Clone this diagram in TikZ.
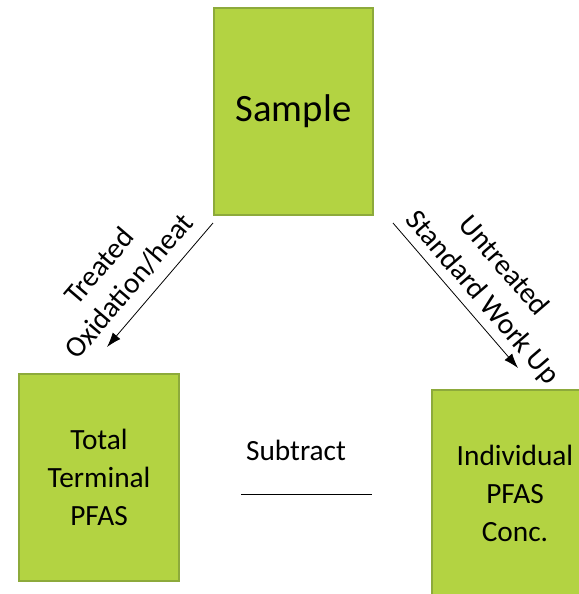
\documentclass[tikz,border=0pt]{standalone}
\usepackage{fontspec}
\setmainfont{Carlito}
\usetikzlibrary{arrows.meta}
\definecolor{boxgreen}{HTML}{B3D342}
\definecolor{boxedge}{HTML}{8DAA3B}
\tikzset{
  stagebox/.style={draw=boxedge, fill=boxgreen, line width=1.5pt, align=center, inner sep=0pt},
  flowarrow/.style={-{Latex[length=11pt,width=7.5pt]}, line width=0.6pt},
  steplabel/.style={font=\fontsize{22}{28.5}\selectfont}
}
\begin{document}
\begin{tikzpicture}[x=0.75pt,y=-0.75pt]
    \useasboundingbox (0,0) rectangle (579,594);
    \clip (0,0) rectangle (579,594);
    % boxes
    \node[stagebox, minimum width=119.25pt, minimum height=155.25pt, font=\fontsize{29}{35}\selectfont] (sample) at (293.5,111.5) {Sample};
    \node[stagebox, steplabel, minimum width=120pt, minimum height=155.25pt] (total) at (99,477.5) {Total\\Terminal\\PFAS};
    \node[stagebox, steplabel, minimum width=124.5pt, minimum height=155.25pt] (indiv) at (515,493.5) {Individual\\PFAS\\Conc.};
    % arrows
    \coordinate (lstart) at (213,223);
    \coordinate (lend) at (107,347);
    \coordinate (rstart) at (393,223);
    \coordinate (rend) at (518,368);
    \draw[flowarrow] (lstart) -- (lend);
    \draw[flowarrow] (rstart) -- (rend);
    \node[steplabel, rotate=49.5] (treated) at (99,266) {Treated};
    \node[steplabel, rotate=49.5] (oxid) at (129,286) {Oxidation/heat};
    \node[steplabel, rotate=-49.3] (untreated) at (505,265) {Untreated};
    \node[steplabel, rotate=-49.3] (standard) at (482,298) {Standard Work Up};
    % subtract
    \node[steplabel] (subtract) at (296,450) {Subtract};
    \draw[line width=0.75pt] (241,494) -- (372,494);
\end{tikzpicture}
\end{document}
